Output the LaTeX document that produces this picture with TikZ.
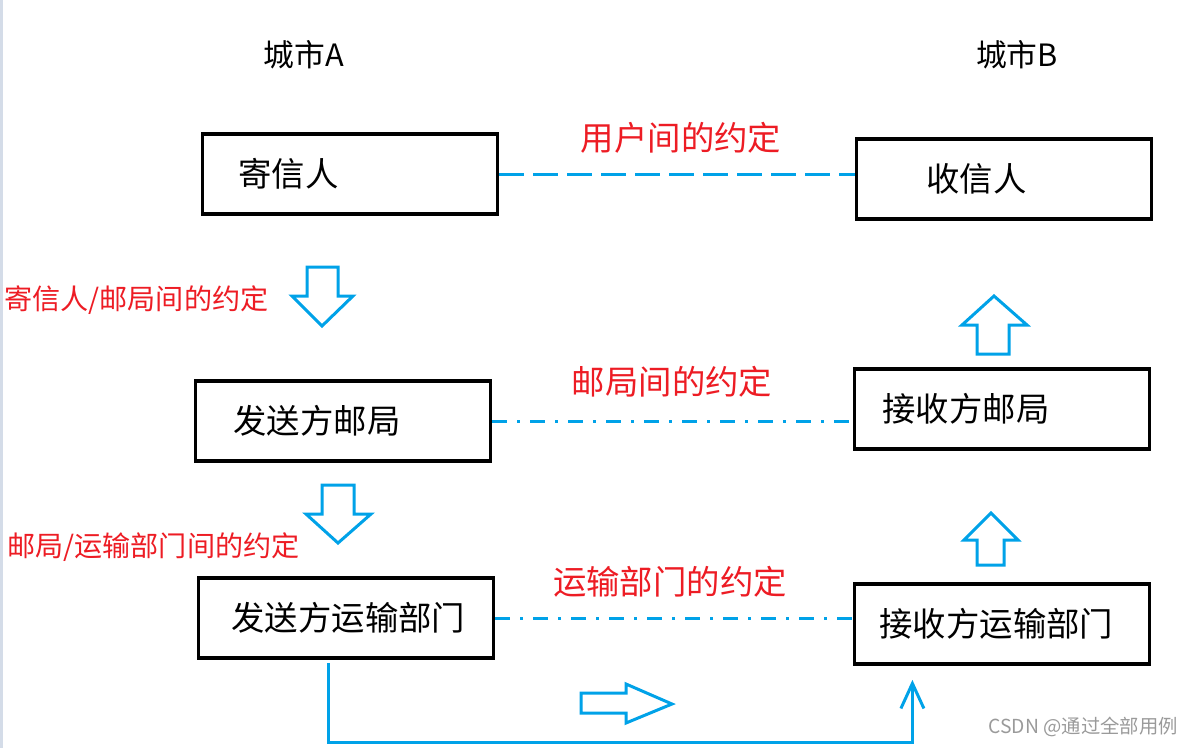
\documentclass[tikz,border=0pt]{standalone}
\usepackage{fontspec}
\setmainfont{Noto Sans CJK SC}
\usepackage{xcolor}
\usetikzlibrary{positioning,arrows.meta,calc}
\definecolor{lineblue}{HTML}{00A2E8}
\definecolor{labelred}{HTML}{ED1C24}
\definecolor{edgegray}{HTML}{D4DCE8}
\definecolor{markgray}{HTML}{9A9A9A}

\begin{document}
\begin{tikzpicture}[
  x=0.02cm, y=-0.02cm,
  box/.style={draw, line width=0.075cm, minimum height=1.6cm,
              text width=4.9cm, inner xsep=0.5cm, align=left, font=\fontsize{19}{21}\selectfont},
  city/.style={font=\fontsize{17.5}{20}\selectfont},
  pact/.style={text=labelred, font=\fontsize{19}{22}\selectfont},
  sidepact/.style={text=labelred, anchor=west, inner xsep=0pt, font=\fontsize{16}{18}\selectfont},
  dline/.style={draw=lineblue, line width=0.06cm},
  blk/.style={draw=lineblue, line width=0.06cm, fill=white},
  conn/.style={draw=lineblue, line width=0.06cm, -{Straight Barb[length=0.5cm, width=0.46cm]}},
]
  \useasboundingbox (0,0) rectangle (1197,748);
  \fill[edgegray] (0,0) rectangle (3,748);

  % two cities
  \node[city] (cityA) at (304,55)  {城市A};
  \node[city] (cityB) at (1017,55) {城市B};

  % three layers on each side
  \node[box] (sender)   at (350,174)   {\hspace*{0.22cm}寄信人};
  \node[box] (postA)    at (343,421)   {\hspace*{0.26cm}发送方邮局};
  \node[box] (transA)   at (346,618)   {\hspace*{0.16cm}发送方运输部门};
  \node[box] (receiver) at (1004,179)  {\hspace*{0.9cm}收信人};
  \node[box] (postB)    at (1002,409)  {\hspace*{0.06cm}接收方邮局};
  \node[box] (transB)   at (1002,624)  {接收方运输部门};

  % peer agreements
  \draw[dline, dash pattern=on 0.5cm off 0.18cm] (sender.east) -- (sender.east -| receiver.west);
  \draw[dline, dash pattern=on 0.3cm off 0.2cm on 0.06cm off 0.2cm] (postA.east) -- (postA.east -| postB.west);
  \draw[dline, dash pattern=on 0.3cm off 0.2cm on 0.06cm off 0.2cm] (transA.east) -- (transA.east -| transB.west);
  \node[pact] (pUser)  at (681,138) {用户间的约定};
  \node[pact] (pPost)  at (672,382) {邮局间的约定};
  \node[pact] (pTrans) at (670,582) {运输部门的约定};

  % between layers
  \node[sidepact] (sPost)  at (4,300) {寄信人/邮局间的约定};
  \node[sidepact] (sTrans) at (7,547) {邮局/运输部门间的约定};

  % hollow block arrows
  \draw[blk] (307,267) -- (338,267) -- (338,296) -- (353,296) -- (322,326) -- (292,296) -- (307,296) -- cycle;
  \draw[blk] (322,485) -- (354,485) -- (354,514) -- (371,514) -- (338,543) -- (306,514) -- (322,514) -- cycle;
  \draw[blk] (977,354) -- (1009,354) -- (1009,325) -- (1027,325) -- (994,296) -- (962,325) -- (977,325) -- cycle;
  \draw[blk] (977,565) -- (1004,565) -- (1004,540) -- (1018,540) -- (991,513) -- (964,540) -- (977,540) -- cycle;
  \draw[blk] (581,693) -- (626,693) -- (626,684) -- (672,704) -- (626,723) -- (626,713) -- (581,713) -- cycle;

  % physical path A -> B
  \coordinate (outA) at ($(transA.south west)!0.44!(transA.south east)+(0,3)$);
  \coordinate (inB)  at ($(transB.south west)!0.2!(transB.south east)+(0,14)$);
  \draw[conn] (outA) -- ++(0,80) -| (inB);

  \node[text=markgray, anchor=east, font=\fontsize{11}{13}\selectfont] (mark) at (1184,727) {CSDN @通过全部用例};
\end{tikzpicture}
\end{document}
